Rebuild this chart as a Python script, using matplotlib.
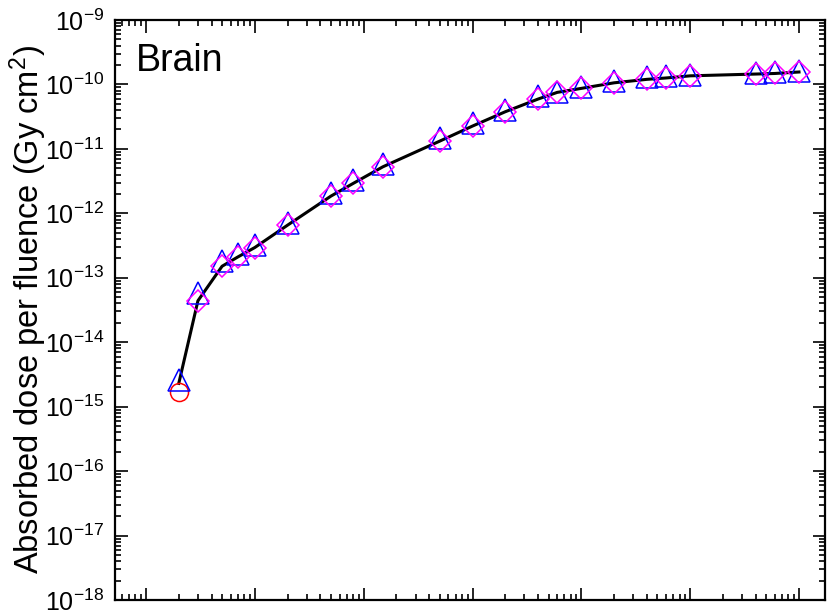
import numpy as np
import matplotlib
matplotlib.use("Agg")
import matplotlib.pyplot as plt
from matplotlib.ticker import LogLocator, NullFormatter

plt.rcParams['font.family'] = ['Liberation Sans', 'DejaVu Sans']
plt.rcParams['mathtext.fontset'] = 'custom'
plt.rcParams['mathtext.rm'] = 'Liberation Sans'
plt.rcParams['mathtext.it'] = 'Liberation Sans:italic'
plt.rcParams['mathtext.default'] = 'regular'

# energies (x), no tick labels visible on the crop
energy = [0.02, 0.03, 0.05, 0.07, 0.1, 0.2, 0.5, 0.8, 1.5, 5, 10, 20, 40, 60,
          100, 200, 400, 600, 1000, 4000, 6000, 10000]

# black reference curve
curve = [2.3e-15, 4.4e-14, 1.51e-13, 2.11e-13, 2.95e-13, 6.56e-13, 1.85e-12,
         2.91e-12, 5.27e-12, 1.32e-11, 2.26e-11, 3.77e-11, 5.93e-11, 7.53e-11,
         8.69e-11, 1.06e-10, 1.20e-10, 1.26e-10, 1.36e-10, 1.45e-10, 1.48e-10,
         1.56e-10]

# blue triangles
tri = [2.62e-15, 5.9e-14, 1.84e-13, 2.38e-13, 3.24e-13, 7.18e-13, 2.06e-12,
       3.3e-12, 5.9e-12, 1.46e-11, 2.5e-11, 4.0e-11, 6.53e-11, 7.7e-11,
       9.1e-11, 1.12e-10, 1.29e-10, 1.36e-10, 1.39e-10, 1.50e-10, 1.55e-10,
       1.60e-10]

# magenta diamonds (start at second energy)
dia_energy = energy[1:]
dia = curve[1:]

# red circle
circ_energy = [0.02]
circ = [1.7e-15]

fig = plt.figure(figsize=(8.27, 6.11), dpi=100)
ax = fig.add_axes([115/827, 1 - 600/611, 710/827, 580/611])

ax.plot(energy, curve, color='black', lw=2.2, zorder=2)
ax.plot(circ_energy, circ, ls='none', marker='o', ms=13, mfc='none',
        mec='#ff0000', mew=1.1, zorder=3)
ax.plot(energy, tri, ls='none', marker='^', ms=15.5, mfc='none',
        mec='#0000ff', mew=1.1, zorder=3)
ax.plot(dia_energy, dia, ls='none', marker='D', ms=11.5, mfc='none',
        mec='#ff00ff', mew=1.1, zorder=4)

ax.set_xscale('log')
ax.set_yscale('log')
ax.set_xlim(10**(-2 - 0.285), 10**(4 + 0.239))
ax.set_ylim(1e-18, 1e-9)

ax.yaxis.set_major_locator(LogLocator(base=10, numticks=20))
ax.yaxis.set_minor_locator(LogLocator(base=10, subs=np.arange(2, 10), numticks=20))
ax.xaxis.set_major_locator(LogLocator(base=10, numticks=20))
ax.xaxis.set_minor_locator(LogLocator(base=10, subs=np.arange(2, 10), numticks=20))
ax.xaxis.set_minor_formatter(NullFormatter())
ax.yaxis.set_minor_formatter(NullFormatter())

ax.tick_params(which='both', direction='in', top=True, right=True,
               labelbottom=False, width=1.2, labelsize=18, pad=8)
ax.tick_params(which='major', length=9)
ax.tick_params(which='minor', length=4.5)
for s in ax.spines.values():
    s.set_linewidth(1.6)

ax.set_ylabel('Absorbed dose per fluence (Gy cm$^2$)', fontsize=23.5, labelpad=-3)
ax.text(0.03, 0.96, 'Brain', transform=ax.transAxes, fontsize=27,
        ha='left', va='top')

fig.savefig('out.png', dpi=100)
